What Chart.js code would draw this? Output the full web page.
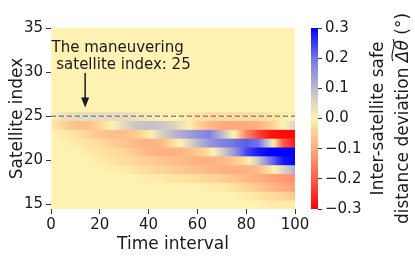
<!DOCTYPE html>
<html>
<head>
<meta charset="utf-8">
<script src="https://cdn.jsdelivr.net/npm/chart.js@4.4.0/dist/chart.umd.min.js"></script>
<style>
    html, body { margin: 0; padding: 0; background: #fff; }
    #wrap { position: relative; width: 415px; height: 261px; }
    #heat { position: absolute; left: 0; top: 0; }
    #cbar { position: absolute; left: 295px; top: 0; }
</style>
</head>
<body>
<div id="wrap">
    <canvas id="heat" width="415" height="261"></canvas>
    <canvas id="cbar" width="120" height="261"></canvas>
</div>
<script>
// sampled every 5 time steps, one list per satellite row
const timeSteps = [0, 5, 10, 15, 20, 25, 30, 35, 40, 45, 50, 55, 60, 65, 70, 75, 80, 85, 90, 95, 100];
const sat25 = [0.00, 0.03, 0.04, 0.04, 0.04, 0.04, 0.04, 0.03, 0.02, 0.01, 0.00, -0.01, -0.02, -0.03, -0.03, -0.03, -0.03, -0.03, -0.02, -0.01, 0.01];
const sat24 = [-0.01, -0.04, -0.07, -0.07, -0.04, 0.00, 0.05, 0.08, 0.09, 0.08, 0.06, 0.02, -0.04, -0.08, -0.10, -0.10, -0.10, -0.09, -0.05, 0.00, 0.06];
const sat23 = [0.00, -0.01, -0.02, -0.04, -0.06, -0.07, -0.07, -0.05, -0.01, 0.06, 0.10, 0.13, 0.16, 0.18, 0.10, 0.00, -0.15, -0.23, -0.28, -0.29, -0.29];
const sat22 = [0.00, 0.00, -0.01, -0.02, -0.03, -0.05, -0.06, -0.08, -0.09, -0.08, -0.03, 0.03, 0.10, 0.15, 0.18, 0.20, 0.22, 0.20, 0.05, -0.20, -0.27];
const sat21 = [0.00, 0.00, 0.00, -0.01, -0.02, -0.03, -0.04, -0.06, -0.08, -0.09, -0.09, -0.08, -0.06, -0.02, 0.06, 0.15, 0.24, 0.28, 0.30, 0.30, 0.30];
const sat20 = [0.00, 0.00, 0.00, 0.00, -0.01, -0.02, -0.03, -0.04, -0.05, -0.06, -0.07, -0.08, -0.09, -0.09, -0.08, -0.06, -0.02, 0.08, 0.20, 0.28, 0.30];
const sat19 = [0.00, 0.00, 0.00, 0.00, 0.00, -0.01, -0.01, -0.02, -0.03, -0.04, -0.05, -0.06, -0.07, -0.08, -0.09, -0.09, -0.09, -0.07, -0.02, 0.05, 0.12];
const sat18 = [0.00, 0.00, 0.00, 0.00, 0.00, 0.00, 0.00, 0.00, -0.01, -0.01, -0.02, -0.02, -0.03, -0.04, -0.05, -0.06, -0.08, -0.09, -0.11, -0.12, -0.13];
const sat17 = [0.00, 0.00, 0.00, 0.00, 0.00, 0.00, 0.00, 0.00, 0.00, 0.00, 0.00, 0.00, 0.00, -0.01, -0.01, -0.02, -0.04, -0.06, -0.08, -0.10, -0.11];
const sat16 = [0.00, 0.00, 0.00, 0.00, 0.00, 0.00, 0.00, 0.00, 0.00, 0.00, 0.00, 0.00, 0.00, 0.00, 0.00, 0.00, -0.01, -0.02, -0.03, -0.04, -0.06];
const sat15 = [0.00, 0.00, 0.00, 0.00, 0.00, 0.00, 0.00, 0.00, 0.00, 0.00, 0.00, 0.00, 0.00, 0.00, 0.00, 0.00, 0.00, 0.00, -0.01, -0.01, -0.01];
// rows 26..35 stay at zero the whole time
const calmRow = [0, 0, 0, 0, 0, 0, 0, 0, 0, 0, 0, 0, 0, 0, 0, 0, 0, 0, 0, 0, 0];
const satIndex = [15, 16, 17, 18, 19, 20, 21, 22, 23, 24, 25, 26, 27, 28, 29, 30, 31, 32, 33, 34, 35];
const activeRows = { 15: sat15, 16: sat16, 17: sat17, 18: sat18, 19: sat19, 20: sat20, 21: sat21, 22: sat22, 23: sat23, 24: sat24, 25: sat25 };
const xTicks = [0, 20, 40, 60, 80, 100];
const yTicks = [15, 20, 25, 30, 35];
const cbarTicks = [-0.3, -0.2, -0.1, 0.0, 0.1, 0.2, 0.3];
const maneuverIndex = 25;

const cmapStops = [
    [-0.3, [255, 0, 0]],
    [-0.2, [255, 95, 75]],
    [-0.1, [255, 170, 125]],
    [-0.03, [255, 220, 155]],
    [0.0, [255, 242, 178]],
    [0.05, [225, 215, 190]],
    [0.1, [190, 185, 205]],
    [0.2, [115, 115, 230]],
    [0.3, [0, 0, 255]]
];
const FONT = 'DejaVu Sans';
const INK = '#1a1a1a';

function cmap(v) {
    if (v <= cmapStops[0][0]) return 'rgb(' + cmapStops[0][1].join(',') + ')';
    for (let i = 1; i < cmapStops.length; i++) {
        const [v1, c1] = cmapStops[i];
        if (v <= v1) {
            const [v0, c0] = cmapStops[i - 1];
            const f = (v - v0) / (v1 - v0);
            const c = c0.map((a, k) => Math.round(a + (c1[k] - a) * f));
            return 'rgb(' + c.join(',') + ')';
        }
    }
    return 'rgb(' + cmapStops[cmapStops.length - 1][1].join(',') + ')';
}

function rowValues(r) {
    return activeRows[r] || calmRow;
}

function segmentFill(seg) {
    return ctx => {
        if (ctx.type !== 'data' || !ctx.raw) return cmap(0);
        const vals = rowValues(ctx.raw.y);
        const a = vals[seg], b = vals[seg + 1];
        const xs = ctx.chart.scales.x;
        const x0 = xs ? xs.getPixelForValue(timeSteps[seg]) : NaN;
        const x1 = xs ? xs.getPixelForValue(timeSteps[seg + 1]) : NaN;
        if (!isFinite(x0) || !isFinite(x1) || x0 === x1) return cmap((a + b) / 2);
        const g = ctx.chart.ctx.createLinearGradient(x0, 0, x1, 0);
        for (let k = 0; k <= 4; k++) g.addColorStop(k / 4, cmap(a + (b - a) * k / 4));
        return g;
    };
}

const heatSets = timeSteps.slice(0, -1).map((t, i) => ({
    type: 'bar',
    data: satIndex.map(r => ({ x: [timeSteps[i], timeSteps[i + 1]], y: r })),
    backgroundColor: segmentFill(i),
    borderWidth: 0,
    barPercentage: 1,
    categoryPercentage: 1,
    grouped: false,
    clip: 0,
    order: 1
}));

const maneuverLine = {
    type: 'line',
    data: [{ x: xTicks[0], y: maneuverIndex }, { x: xTicks[xTicks.length - 1], y: maneuverIndex }],
    borderColor: 'rgba(128,128,128,0.9)',
    borderWidth: 1.5,
    borderDash: [5, 3],
    pointRadius: 0,
    clip: 0,
    order: 0
};

const annotate = {
    id: 'annotate',
    afterDatasetsDraw(chart) {
        const { ctx, scales: { x, y } } = chart;
        ctx.save();
        ctx.fillStyle = INK;
        ctx.strokeStyle = INK;
        ctx.font = '15px ' + FONT;
        ctx.textAlign = 'left';
        ctx.textBaseline = 'alphabetic';
        ctx.fillText('The maneuvering', x.getPixelForValue(0.2), y.getPixelForValue(32.3));
        ctx.fillText(' satellite index: 25', x.getPixelForValue(0.2), y.getPixelForValue(30.4));
        const ax = x.getPixelForValue(14);
        const top = y.getPixelForValue(29.9);
        const tip = y.getPixelForValue(26.0);
        ctx.lineWidth = 1.5;
        ctx.beginPath();
        ctx.moveTo(ax, top);
        ctx.lineTo(ax, tip - 8);
        ctx.stroke();
        ctx.beginPath();
        ctx.moveTo(ax - 4, tip - 10);
        ctx.lineTo(ax + 4, tip - 10);
        ctx.lineTo(ax, tip);
        ctx.closePath();
        ctx.fill();
        ctx.restore();
    }
};

new Chart(document.getElementById('heat'), {
    type: 'bar',
    data: { datasets: [maneuverLine, ...heatSets] },
    options: {
        indexAxis: 'y',
        responsive: false,
        animation: false,
        events: [],
        layout: { padding: { left: 0, top: 28, right: 120, bottom: 0 } },
        plugins: { legend: { display: false }, tooltip: { enabled: false } },
        scales: {
            x: {
                type: 'linear',
                min: 0,
                max: 100,
                afterBuildTicks: s => { s.ticks = xTicks.map(v => ({ value: v })); },
                afterFit: s => { s.height = 52; },
                ticks: { color: INK, font: { family: FONT, size: 15 }, padding: 2, maxRotation: 0 },
                grid: { drawOnChartArea: false, tickLength: 5, color: '#333', offset: false },
                border: { display: false },
                title: { display: true, text: 'Time interval', color: INK, font: { family: FONT, size: 17 }, padding: { top: 0, bottom: 6 } }
            },
            y: {
                type: 'linear',
                min: 14.5,
                max: 35,
                offset: false,
                afterBuildTicks: s => { s.ticks = yTicks.map(v => ({ value: v })); },
                afterFit: s => { s.width = 51; },
                ticks: { color: INK, font: { family: FONT, size: 15 }, padding: 3 },
                grid: { drawOnChartArea: false, tickLength: 5, color: '#333', offset: false },
                border: { display: false },
                title: { display: true, text: 'Satellite index', color: INK, font: { family: FONT, size: 17 }, padding: { top: 7, bottom: 0 } }
            }
        }
    },
    plugins: [annotate]
});

const cbarTitle = {
    id: 'cbarTitle',
    afterDraw(chart) {
        const { ctx, chartArea } = chart;
        const cy = (chartArea.top + chartArea.bottom) / 2;
        const reg = '17px ' + FONT;
        const ital = 'italic 17px ' + FONT;
        ctx.save();
        ctx.fillStyle = INK;
        ctx.strokeStyle = INK;
        ctx.textBaseline = 'alphabetic';
        // line 1
        ctx.save();
        ctx.translate(82, cy);
        ctx.rotate(-Math.PI / 2);
        ctx.font = reg;
        ctx.textAlign = 'center';
        ctx.fillText('Inter-satellite safe', 0, 6);
        ctx.restore();
        // line 2 with the tilde symbol
        const parts = [['distance deviation ', reg], ['Δθ', ital], [' (°)', reg]];
        ctx.save();
        ctx.translate(107, cy);
        ctx.rotate(-Math.PI / 2);
        ctx.textAlign = 'left';
        const widths = parts.map(([t, f]) => { ctx.font = f; return ctx.measureText(t).width; });
        let px = -widths.reduce((s, w) => s + w, 0) / 2;
        parts.forEach(([t, f], i) => {
            ctx.font = f;
            ctx.fillText(t, px, 6);
            if (i === 1) {
                const x0 = px + 1, x1 = px + widths[i] + 1, ty = -10;
                const w = x1 - x0;
                ctx.lineWidth = 1.1;
                ctx.beginPath();
                ctx.moveTo(x0, ty + 1);
                ctx.bezierCurveTo(x0 + w * 0.3, ty - 3, x0 + w * 0.7, ty + 5, x1, ty + 1);
                ctx.stroke();
            }
            px += widths[i];
        });
        ctx.restore();
        ctx.restore();
    }
};

new Chart(document.getElementById('cbar'), {
    type: 'bar',
    data: {
        labels: ['deviation'],
        datasets: [{
            data: [[cbarTicks[0], cbarTicks[cbarTicks.length - 1]]],
            backgroundColor: ctx => {
                const ca = ctx.chart.chartArea;
                if (!ca || !isFinite(ca.top) || !isFinite(ca.bottom) || ca.top === ca.bottom) return cmap(0);
                const g = ctx.chart.ctx.createLinearGradient(0, ca.bottom, 0, ca.top);
                cmapStops.forEach(([v, c]) => g.addColorStop((v + 0.3) / 0.6, 'rgb(' + c.join(',') + ')'));
                return g;
            },
            borderWidth: 0,
            barPercentage: 1,
            categoryPercentage: 1
        }]
    },
    options: {
        responsive: false,
        animation: false,
        events: [],
        layout: { padding: { left: 16, top: 28, right: 0, bottom: 52 } },
        plugins: { legend: { display: false }, tooltip: { enabled: false } },
        scales: {
            x: { display: false },
            y: {
                position: 'right',
                min: -0.3,
                max: 0.3,
                afterBuildTicks: s => { s.ticks = cbarTicks.map(v => ({ value: v })); },
                afterFit: s => { s.width = 97; },
                ticks: {
                    color: INK,
                    font: { family: FONT, size: 15 },
                    padding: 3,
                    callback: v => (v < 0 ? '\u2212' : '') + Math.abs(v).toFixed(1)
                },
                grid: { drawOnChartArea: false, tickLength: 4, color: '#333' },
                border: { display: false }
            }
        }
    },
    plugins: [cbarTitle]
});
</script>
</body>
</html>
